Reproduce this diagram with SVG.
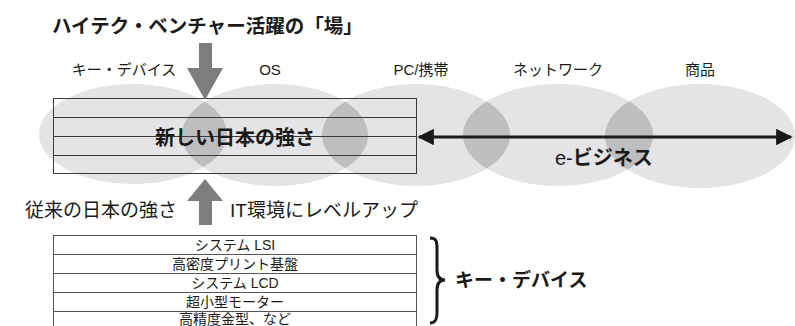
<svg xmlns="http://www.w3.org/2000/svg" width="795" height="326" viewBox="0 0 795 326">
<style>
text{font-family:"Liberation Sans","Noto Sans CJK JP",sans-serif;fill:#1a1a1a}
.b{font-weight:bold}
.lbl{font-size:15px}
.ell{fill:#e4e4e6}
.lens{fill:#bebec0}
.grid{fill:none;stroke:#3a3a3a;stroke-width:1}
.grid2{fill:none;stroke:#555;stroke-width:1}
.tb{font-size:14px}
.garrow{fill:#7d7d7d}
</style>
<defs>
<clipPath id="c1"><ellipse cx="133" cy="134" rx="94" ry="50"/></clipPath>
<clipPath id="c2"><ellipse cx="275" cy="135" rx="93" ry="51"/></clipPath>
<clipPath id="c3"><ellipse cx="416" cy="135" rx="94" ry="51"/></clipPath>
<clipPath id="c4"><ellipse cx="558" cy="135" rx="95" ry="51"/></clipPath>
<clipPath id="c5"><ellipse cx="700" cy="136" rx="95" ry="52"/></clipPath>
<marker id="ah" viewBox="0 0 10 10" refX="9" refY="5" markerWidth="6" markerHeight="5.5" orient="auto-start-reverse" markerUnits="strokeWidth"><path d="M0,0 L10,5 L0,10 z" fill="#1a1a1a"/></marker>
</defs>

<g id="title"><text class="b" x="52" y="33" font-size="19.5">ハイテク・ベンチャー活躍の「場」</text></g>

<g id="fields">
<g id="field-keydevice"><ellipse class="ell" cx="133" cy="134" rx="94" ry="50"/><text class="lbl" x="124" y="75" text-anchor="middle">キー・デバイス</text></g>
<g id="field-os"><ellipse class="ell" cx="275" cy="135" rx="93" ry="51"/><text class="lbl" x="270" y="75" text-anchor="middle">OS</text></g>
<g id="field-pc"><ellipse class="ell" cx="416" cy="135" rx="94" ry="51"/><text class="lbl" x="421" y="75" text-anchor="middle">PC/携帯</text></g>
<g id="field-network"><ellipse class="ell" cx="558" cy="135" rx="95" ry="51"/><text class="lbl" x="558" y="75" text-anchor="middle">ネットワーク</text></g>
<g id="field-goods"><ellipse class="ell" cx="700" cy="136" rx="95" ry="52"/><text class="lbl" x="700" y="75" text-anchor="middle">商品</text></g>
<ellipse class="lens" cx="133" cy="134" rx="94" ry="50" clip-path="url(#c2)"/>
<ellipse class="lens" cx="275" cy="135" rx="93" ry="51" clip-path="url(#c3)"/>
<ellipse class="lens" cx="416" cy="135" rx="94" ry="51" clip-path="url(#c4)"/>
<ellipse class="lens" cx="558" cy="135" rx="95" ry="51" clip-path="url(#c5)"/>
</g>

<g id="new-strength">
<rect class="grid" x="53.5" y="98.5" width="363" height="75"/>
<path class="grid" d="M53.5,117.5H416.5M53.5,136.5H416.5M53.5,155.5H416.5"/>
<text class="b" x="235" y="145" font-size="20" text-anchor="middle">新しい日本の強さ</text>
</g>

<g id="ebusiness"><text x="555" y="165" font-size="20">e-<tspan class="b">ビジネス</tspan></text></g>

<g id="connectors">
<line x1="419" y1="137" x2="791" y2="137" stroke="#1a1a1a" stroke-width="3" marker-start="url(#ah)" marker-end="url(#ah)"/>
<path class="garrow" d="M199,43H212V68H223L205,100L187,68H199Z"/>
<path class="garrow" d="M205,179L223,201H212V225H199V201H187Z"/>
</g>

<g id="upgrade-labels">
<text x="25" y="217" font-size="19">従来の日本の強さ</text>
<text x="230" y="217" font-size="19">IT環境にレベルアップ</text>
</g>

<g id="device-table">
<rect class="grid2" x="53.5" y="235.5" width="363" height="96"/>
<path class="grid2" d="M53.5,254.5H416.5M53.5,273.5H416.5M53.5,292.5H416.5M53.5,311.5H416.5"/>
<text class="tb" x="235" y="250" text-anchor="middle">システム LSI</text>
<text class="tb" x="235" y="269" text-anchor="middle">高密度プリント基盤</text>
<text class="tb" x="235" y="288" text-anchor="middle">システム LCD</text>
<text class="tb" x="235" y="307" text-anchor="middle">超小型モーター</text>
<text class="tb" x="235" y="324" text-anchor="middle">高精度金型、など</text>
</g>

<g id="brace">
<path d="M430,238C437,238 437,242 437,250V270C437,276 439,280 445,280C439,280 437,284 437,290V312C437,320 435,323 430,323" fill="none" stroke="#1a1a1a" stroke-width="3"/>
</g>

<g id="keydevice-label"><text class="b" x="455" y="287" font-size="19">キー・デバイス</text></g>
</svg>
